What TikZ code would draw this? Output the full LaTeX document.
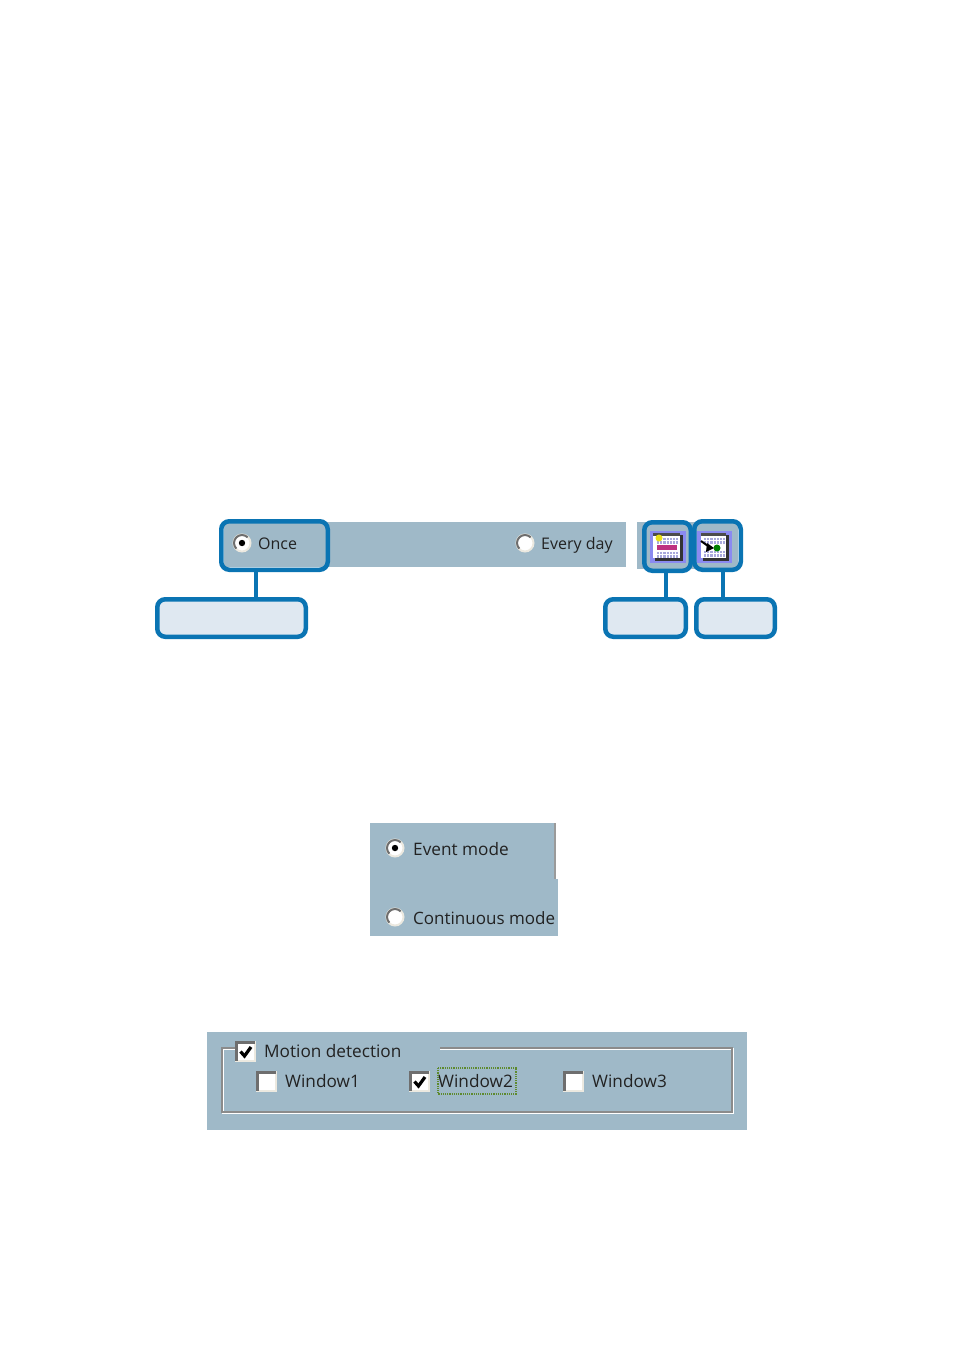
\documentclass[tikz,border=0pt]{standalone}
\usepackage{fontspec}
\setmainfont{Open Sans}
\usetikzlibrary{calc}
\definecolor{panel}{HTML}{9FB9C8}
\definecolor{callout}{HTML}{0A74B3}
\definecolor{boxfill}{HTML}{DFE8F1}
\definecolor{uitext}{HTML}{222222}
\definecolor{glow}{HTML}{8A8AF0}
\definecolor{ctlgray}{HTML}{6E6E6E}
\definecolor{pale}{HTML}{ECE9E0}
\definecolor{focusgreen}{HTML}{5E8A2E}
\definecolor{gridblue}{HTML}{A9A9DC}
\tikzset{
  calloutbox/.style={draw=callout,line width=4.5pt,rounded corners=8pt,inner sep=0pt,outer sep=0pt,fill=none,anchor=north west},
  labelbox/.style={draw=callout,line width=4.5pt,rounded corners=8pt,inner sep=0pt,outer sep=0pt,fill=boxfill,anchor=north west},
  tie/.style={draw=callout,line width=4pt},
  uilabel/.style={text=uitext,inner sep=0pt,anchor=base west,font=\fontsize{17.2}{20}\selectfont},
  striplabel/.style={uilabel,font=\fontsize{16}{20}\selectfont},
  panelfill/.style={fill=panel,draw=none},
}
\newcommand{\radioctl}[4]{% name,x,y,checked
  \node[circle,draw=none,fill=white,minimum size=17pt,inner sep=0pt,outer sep=0pt] (#1) at (#2,#3) {};
  \draw[pale,line width=2pt] (#2,#3) circle (8.5pt);
  \draw[ctlgray,line width=2pt] (#2,#3) ++(-45:8) arc[start angle=-45,end angle=-225,radius=8];
  \ifnum#4=1 \fill[black] (#2,#3) circle (3.2pt);\fi
}
\newcommand{\checkctl}[4]{% name,x,y,checked
  \node[draw=none,fill=pale,minimum size=21pt,inner sep=0pt,outer sep=0pt,anchor=north west] (#1) at (#2,#3) {};
  \fill[white] ($(#2,#3)+(3,3)$) rectangle ++(16,16);
  \draw[ctlgray,line width=3pt] ($(#2,#3)+(1.5,20)$) -- ++(0,-18.5) -- ++(18.5,0);
  \ifnum#4=1 \draw[black,line width=3.2pt] ($(#2,#3)+(5.5,10.5)$) -- ++(4,4.5) -- ++(6.5,-9);\fi
}
\newcommand{\calgrid}[2]{% x0,y0 small calendar cells
  \foreach \gx in {0,1,...,6}{\foreach \gy in {0,1}{
    \fill[gridblue] ($(#1,#2)+(\gx*3.2,\gy*3.4)$) rectangle ++(2.2,2.4);}}
}
\begin{document}
\begin{tikzpicture}[x=1pt,y=-1pt]
\useasboundingbox (0,0) rectangle (954,1352);
% strip
\fill[panelfill] (224,522) rectangle (626,567);
\fill[panelfill] (637,522) rectangle (738,569);
\radioctl{r1}{242}{543}{1}
\radioctl{r2}{525}{543}{0}
\node[striplabel] (t1) at (258,549) {Once};
\node[striplabel] (t2) at (541,549) {Every day};
% icons
\fill[glow] (650,531) rectangle (686,563);
\fill[glow] (697,531) rectangle (732,563);
\fill[black!80] (655,535) rectangle (683,561);
\fill[white] (653,533) rectangle (680,558);
\fill[black!70] (653,533) rectangle (680,536);
\calgrid{657}{538}
\calgrid{657}{552}
\fill[magenta!75!black] (657,545) rectangle (677,550);
\fill[yellow!90!black] (659,538) circle (3.5pt);
\fill[black!80] (703,535) rectangle (729,561);
\fill[white] (701,533) rectangle (726,558);
\fill[black!70] (701,533) rectangle (726,536);
\calgrid{704}{538}
\calgrid{704}{551}
\draw[black,line width=2pt] (701,541) -- (708,546);
\fill[black] (714,548) -- (706,552) -- (707,543) -- cycle;
\fill[green!50!black] (717,548) circle (3.5pt);
% callouts
\node[calloutbox,minimum width=106.5pt,minimum height=48.5pt] (c1) at (221.25,521.25) {};
\node[calloutbox,minimum width=46.5pt,minimum height=48.5pt] (c2) at (644.25,522.25) {};
\node[calloutbox,minimum width=46.5pt,minimum height=48.5pt] (c3) at (694.25,521.25) {};
\node[labelbox,minimum width=148.5pt,minimum height=37.5pt] (l1) at (157.25,599.25) {};
\node[labelbox,minimum width=80.5pt,minimum height=37.5pt] (l2) at (605.25,599.25) {};
\node[labelbox,minimum width=78.5pt,minimum height=37.5pt] (l3) at (696.25,599.25) {};
\draw[tie] (256,0 |- c1.south) -- (256,0 |- l1.north);
\draw[tie] (666,0 |- c2.south) -- (666,0 |- l2.north);
\draw[tie] (723,0 |- c3.south) -- (723,0 |- l3.north);
% mode panel
\fill[panelfill] (370,823) rectangle (558,936);
\fill[white] (556,823) rectangle (558,879);
\draw[ctlgray!70,line width=1.5pt] (555,823) -- (555,879);
\radioctl{r3}{395}{848}{1}
\radioctl{r4}{395}{917}{0}
\node[uilabel] (t3) at (413,855) {Event mode};
\node[uilabel,font=\fontsize{17}{20}\selectfont] (t4) at (413,924) {Continuous mode};
% motion panel
\fill[panelfill] (207,1032) rectangle (747,1130);
\draw[white,line width=1.5pt] (236,1049) -- (223,1049) -- (223,1113) -- (733,1113) -- (733,1049) -- (440,1049);
\draw[ctlgray!80,line width=1.5pt] (236,1048) -- (222,1048) -- (222,1112) -- (732,1112) -- (732,1048) -- (440,1048);
\checkctl{k0}{235}{1041}{1}
\checkctl{k1}{256}{1071}{0}
\checkctl{k2}{409}{1071}{1}
\checkctl{k3}{563}{1071}{0}
\node[uilabel] (t5) at (264,1057) {Motion detection};
\node[uilabel] (t6) at (285,1087) {Window1};
\node[uilabel] (t7) at (438,1087) {Window2};
\node[uilabel] (t8) at (592,1087) {Window3};
\draw[focusgreen,line width=1.2pt,densely dotted] (438,1068) rectangle (516,1094);
\end{tikzpicture}
\end{document}
